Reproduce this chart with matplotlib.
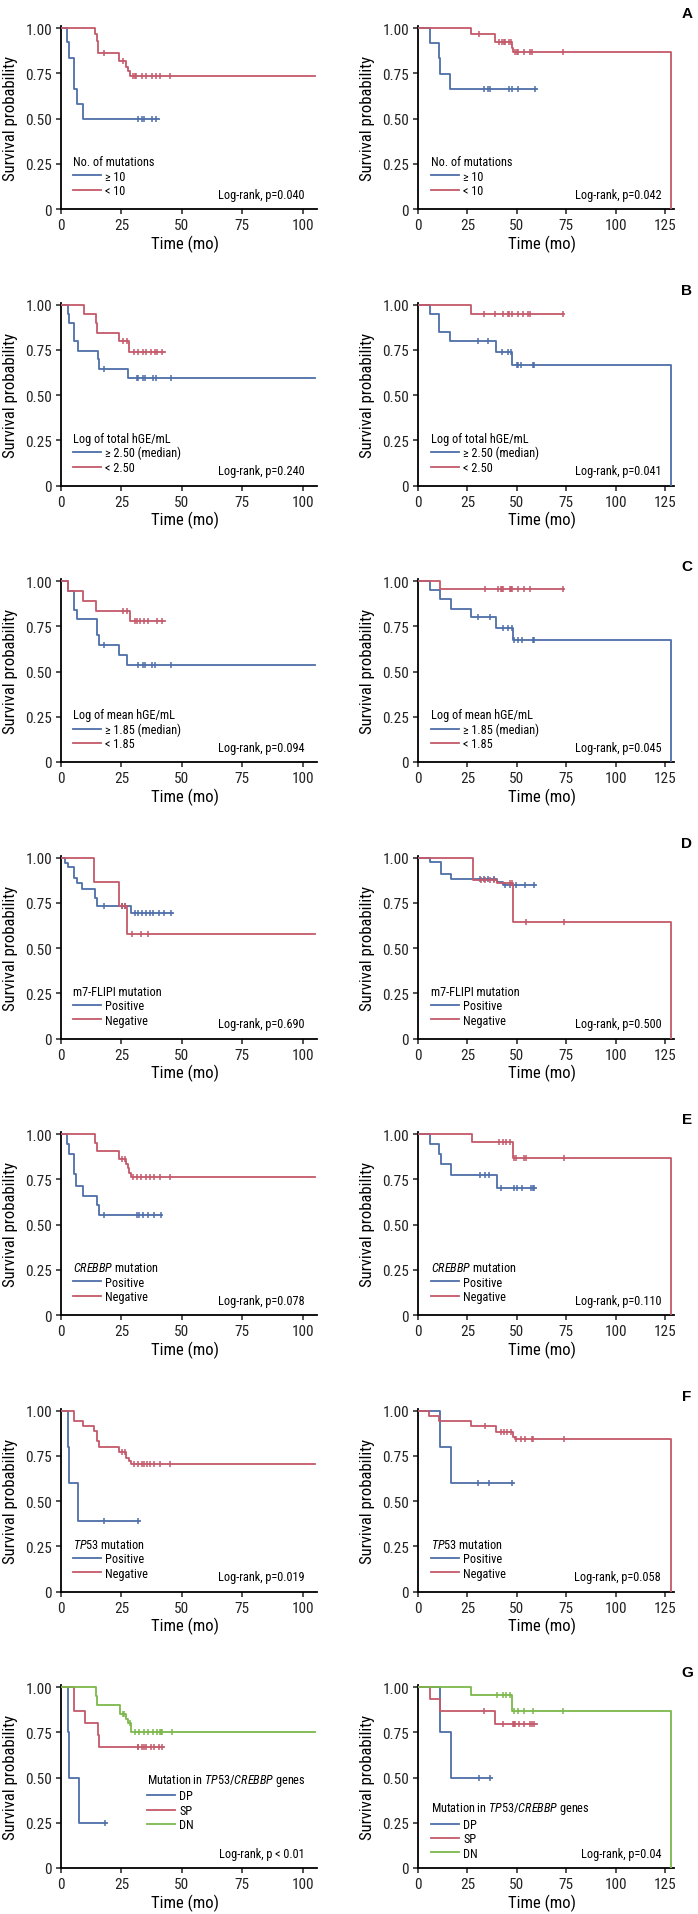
import numpy as np
import matplotlib
matplotlib.use("Agg")
import matplotlib.pyplot as plt
from matplotlib import font_manager as fm

# ---- data ----
# row A : No. of mutations
aL_blue_t = [0, 2.3, 3.3, 5.4, 6.7, 9.2, 40.6]
aL_blue_s = [1, 0.92, 0.835, 0.665, 0.58, 0.50, 0.50]
aL_blue_c = [31.7, 33.6, 34.3, 37.5, 39.3]
aL_red_t = [0, 14.0, 14.8, 15.5, 24.0, 27.0, 27.8, 28.6, 105]
aL_red_s = [1, 0.965, 0.93, 0.86, 0.82, 0.785, 0.76, 0.735, 0.735]
aL_red_c = [17.9, 25.8, 30.0, 30.5, 31.2, 33.7, 35.4, 37.7, 39.2, 40.9, 45.3]
aR_blue_t = [0, 5.9, 10.4, 10.9, 16.3, 60]
aR_blue_s = [1, 0.915, 0.835, 0.748, 0.665, 0.665]
aR_blue_c = [33.6, 35.6, 36.5, 46.2, 47.4, 50.4, 59.2]
aR_red_t = [0, 26.7, 39.0, 47.4, 48.0, 128]
aR_red_s = [1, 0.965, 0.925, 0.89, 0.865, 0]
aR_red_c = [30.9, 41.0, 42.7, 43.4, 44.0, 46.0, 47.2, 49.0, 50.0, 50.8, 53.6, 56.6, 57.8, 73.1]

# row B : log of total hGE/mL
bL_blue_t = [0, 2.8, 3.4, 5.4, 6.9, 15.2, 15.6, 27.6, 105]
bL_blue_s = [1, 0.95, 0.9, 0.8, 0.745, 0.70, 0.645, 0.595, 0.595]
bL_blue_c = [17.9, 31.3, 31.8, 33.8, 34.8, 38.2, 39.3, 45.4]
bL_red_t = [0, 9.7, 14.3, 15.0, 24.0, 28.3, 43.0]
bL_red_s = [1, 0.95, 0.9, 0.845, 0.8, 0.735, 0.735]
bL_red_c = [25.5, 27.5, 30.2, 32.0, 33.8, 35.4, 37.1, 38.9, 39.6, 41.7]
bR_blue_t = [0, 5.9, 10.8, 16.3, 39.5, 47.4, 128]
bR_blue_s = [1, 0.95, 0.85, 0.8, 0.74, 0.665, 0]
bR_blue_c = [30.6, 35.6, 42.4, 45.4, 47.1, 49.9, 50.8, 52.1, 58.0, 58.5]
bR_red_t = [0, 26.7, 74.0]
bR_red_s = [1, 0.95, 0.95]
bR_red_c = [33.4, 39.0, 43.2, 45.4, 46.0, 47.4, 50.4, 53.3, 55.8, 56.6, 73.4]

# row C : log of mean hGE/mL
cL_blue_t = [0, 3.0, 5.4, 6.6, 15.0, 15.6, 24.0, 27.2, 105]
cL_blue_s = [1, 0.945, 0.84, 0.79, 0.70, 0.645, 0.59, 0.537, 0.537]
cL_blue_c = [17.9, 31.7, 34.1, 34.8, 37.8, 38.9, 45.4]
cL_red_t = [0, 3.0, 9.0, 14.3, 28.6, 43.0]
cL_red_s = [1, 0.944, 0.889, 0.833, 0.778, 0.778]
cL_red_c = [25.8, 27.2, 30.6, 31.3, 32.7, 34.5, 36.1, 39.6, 41.7]
cR_blue_t = [0, 6.2, 10.9, 16.8, 26.9, 39.5, 47.9, 128]
cR_blue_s = [1, 0.95, 0.9, 0.845, 0.8, 0.74, 0.675, 0]
cR_blue_c = [30.6, 36.5, 43.2, 45.7, 47.4, 48.6, 50.8, 52.4, 58.3, 58.8]
cR_red_t = [0, 11.3, 74.0]
cR_red_s = [1, 0.955, 0.955]
cR_red_c = [33.9, 40.7, 41.9, 42.7, 43.2, 46.6, 47.2, 47.7, 50.4, 53.8, 56.6, 73.4]

# row D : m7-FLIPI
dL_blue_t = [0, 1.8, 3.1, 5.5, 6.8, 8.8, 14.2, 14.7, 28.9, 46.4]
dL_blue_s = [1, 0.972, 0.946, 0.885, 0.86, 0.824, 0.774, 0.733, 0.695, 0.695]
dL_blue_c = [17.9, 25.2, 26.3, 30.8, 31.9, 33.5, 35.0, 36.8, 38.3, 40.5, 42.7, 45.7]
dL_red_t = [0, 13.8, 23.9, 27.3, 105]
dL_red_s = [1, 0.867, 0.733, 0.58, 0.58]
dL_red_c = [25.2, 26.4, 29.5, 33.1, 35.9]
dR_blue_t = [0, 6.3, 11.7, 16.9, 40.2, 42.9, 59.8]
dR_blue_s = [1, 0.974, 0.907, 0.88, 0.862, 0.848, 0.848]
dR_blue_c = [31.6, 33.5, 35.5, 38.4, 44.0, 46.3, 49.6, 54.2, 58.7]
dR_red_t = [0, 27.6, 40.0, 48.2, 128]
dR_red_s = [1, 0.876, 0.857, 0.644, 0]
dR_red_c = [31.7, 33.9, 36.2, 38.5, 46.4, 47.5, 54.8, 74.0]

# row E : CREBBP
eL_blue_t = [0, 2.4, 3.3, 5.5, 6.4, 9.2, 14.7, 15.7, 42.0]
eL_blue_s = [1, 0.945, 0.89, 0.78, 0.715, 0.66, 0.606, 0.555, 0.555]
eL_blue_c = [17.9, 31.3, 32.2, 34.1, 35.9, 38.7, 41.4]
eL_red_t = [0, 14.2, 14.7, 23.9, 27.1, 27.6, 28.2, 28.9, 105]
eL_red_s = [1, 0.953, 0.906, 0.86, 0.834, 0.81, 0.785, 0.763, 0.763]
eL_red_c = [25.2, 26.3, 29.8, 31.3, 33.1, 35.0, 36.8, 38.7, 40.9, 45.1]
eR_blue_t = [0, 6.3, 10.6, 11.7, 16.9, 40.2, 59.8]
eR_blue_s = [1, 0.945, 0.887, 0.834, 0.771, 0.699, 0.699]
eR_blue_c = [31.2, 33.9, 36.1, 41.8, 48.5, 50.0, 52.4, 57.0, 58.2, 58.7]
eR_red_t = [0, 27.1, 48.1, 128]
eR_red_s = [1, 0.954, 0.867, 0]
eR_red_c = [41.0, 42.9, 44.7, 46.3, 48.6, 49.7, 53.7, 54.6, 73.8]

# row F : TP53
fL_blue_t = [0, 2.8, 3.3, 7.0, 32.8]
fL_blue_s = [1, 0.8, 0.6, 0.392, 0.392]
fL_blue_c = [17.9, 31.9]
fL_red_t = [0, 5.2, 9.2, 13.8, 14.7, 15.1, 15.7, 23.9, 27.1, 28.0, 28.9, 105]
fL_red_s = [1, 0.94, 0.912, 0.885, 0.857, 0.83, 0.8, 0.77, 0.74, 0.72, 0.705, 0.705]
fL_red_c = [25.2, 26.3, 30.4, 31.7, 33.5, 34.2, 35.5, 36.8, 38.7, 40.9, 45.1]
fR_blue_t = [0, 11.3, 16.9, 48.5]
fR_blue_s = [1, 0.8, 0.6, 0.6]
fR_blue_c = [30.5, 36.1, 47.4]
fR_red_t = [0, 5.6, 10.6, 26.6, 39.5, 48.1, 49.0, 128]
fR_red_s = [1, 0.97, 0.94, 0.912, 0.884, 0.856, 0.842, 0]
fR_red_c = [33.9, 41.8, 43.3, 45.1, 47.0, 49.7, 51.9, 54.2, 57.6, 58.2, 73.8]

# row G : TP53/CREBBP
gL_blue_t = [0, 3.0, 3.4, 7.4, 18.9]
gL_blue_s = [1, 0.75, 0.5, 0.25, 0.25]
gL_blue_c = [18.2]
gL_red_t = [0, 5.5, 9.9, 15.2, 15.6, 42.6]
gL_red_s = [1, 0.867, 0.8, 0.733, 0.667, 0.667]
gL_red_c = [31.7, 32.0, 33.4, 34.3, 35.4, 37.1, 38.5, 40.7, 42.0]
gL_green_t = [0, 14.3, 15.0, 24.4, 26.9, 27.9, 29.0, 105]
gL_green_s = [1, 0.95, 0.9, 0.85, 0.825, 0.8, 0.75, 0.75]
gL_green_c = [25.5, 26.0, 28.5, 30.6, 32.4, 34.3, 36.1, 37.9, 39.6, 41.0, 41.5, 42.0, 45.8]
gR_blue_t = [0, 10.9, 16.6, 37.6]
gR_blue_s = [1, 0.75, 0.5, 0.5]
gR_blue_c = [31.1, 36.5]
gR_red_t = [0, 6.2, 10.9, 39.0, 60.0]
gR_red_s = [1, 0.933, 0.867, 0.795, 0.795]
gR_red_c = [33.6, 43.2, 47.9, 48.5, 49.0, 51.0, 53.6, 56.6, 57.5, 58.8]
gR_green_t = [0, 26.9, 47.4, 128]
gR_green_s = [1, 0.955, 0.87, 0]
gR_green_c = [40.2, 43.2, 44.4, 46.6, 48.6, 50.8, 53.6, 58.3, 73.4]

letters = ["A", "B", "C", "D", "E", "F", "G"]
legend_titles = ["No. of mutations", "Log of total hGE/mL", "Log of mean hGE/mL",
                 "m7-FLIPI mutation", r"$\mathit{CREBBP}$ mutation",
                 r"$\mathit{TP53}$ mutation", r"Mutation in $\mathit{TP53/CREBBP}$ genes"]
group_labels = [["\u2265 10", "< 10"],
                ["\u2265 2.50 (median)", "< 2.50"],
                ["\u2265 1.85 (median)", "< 1.85"],
                ["Positive", "Negative"],
                ["Positive", "Negative"],
                ["Positive", "Negative"],
                ["DP", "SP", "DN"]]
p_left = ["Log-rank, p=0.040", "Log-rank, p=0.240", "Log-rank, p=0.094", "Log-rank, p=0.690",
          "Log-rank, p=0.078", "Log-rank, p=0.019", "Log-rank, p < 0.01"]
p_right = ["Log-rank, p=0.042", "Log-rank, p=0.041", "Log-rank, p=0.045", "Log-rank, p=0.500",
           "Log-rank, p=0.110", "Log-rank, p=0.058", "Log-rank, p=0.04"]

left_curves = [
    [(aL_blue_t, aL_blue_s, aL_blue_c), (aL_red_t, aL_red_s, aL_red_c)],
    [(bL_blue_t, bL_blue_s, bL_blue_c), (bL_red_t, bL_red_s, bL_red_c)],
    [(cL_blue_t, cL_blue_s, cL_blue_c), (cL_red_t, cL_red_s, cL_red_c)],
    [(dL_blue_t, dL_blue_s, dL_blue_c), (dL_red_t, dL_red_s, dL_red_c)],
    [(eL_blue_t, eL_blue_s, eL_blue_c), (eL_red_t, eL_red_s, eL_red_c)],
    [(fL_blue_t, fL_blue_s, fL_blue_c), (fL_red_t, fL_red_s, fL_red_c)],
    [(gL_blue_t, gL_blue_s, gL_blue_c), (gL_red_t, gL_red_s, gL_red_c),
     (gL_green_t, gL_green_s, gL_green_c)],
]
right_curves = [
    [(aR_blue_t, aR_blue_s, aR_blue_c), (aR_red_t, aR_red_s, aR_red_c)],
    [(bR_blue_t, bR_blue_s, bR_blue_c), (bR_red_t, bR_red_s, bR_red_c)],
    [(cR_blue_t, cR_blue_s, cR_blue_c), (cR_red_t, cR_red_s, cR_red_c)],
    [(dR_blue_t, dR_blue_s, dR_blue_c), (dR_red_t, dR_red_s, dR_red_c)],
    [(eR_blue_t, eR_blue_s, eR_blue_c), (eR_red_t, eR_red_s, eR_red_c)],
    [(fR_blue_t, fR_blue_s, fR_blue_c), (fR_red_t, fR_red_s, fR_red_c)],
    [(gR_blue_t, gR_blue_s, gR_blue_c), (gR_red_t, gR_red_s, gR_red_c),
     (gR_green_t, gR_green_s, gR_green_c)],
]

COLORS = ["#4d6ea8", "#c4596a", "#7cb84a"]

# ---- fonts: a narrow face if one is around, otherwise shrink the regular one ----
avail = {f.name for f in fm.fontManager.ttflist}
NARROW = None
for cand in ["Liberation Sans Narrow", "Roboto Condensed", "Open Sans Condensed",
             "Noto Sans Condensed", "DejaVu Sans Condensed"]:
    if cand in avail:
        NARROW = cand
        break
if NARROW:
    AX_FONT, TICK_SIZE, LAB_SIZE, SMALL = NARROW, 11, 12, 8.8
else:
    AX_FONT, TICK_SIZE, LAB_SIZE, SMALL = "Liberation Sans", 9.8, 10.2, 7.8
FAM = [AX_FONT, "DejaVu Sans"]
plt.rcParams["font.family"] = FAM
plt.rcParams["mathtext.fontset"] = "custom"
plt.rcParams["mathtext.rm"] = AX_FONT
plt.rcParams["mathtext.it"] = AX_FONT + ":italic"

W, H = 698, 1915
fig = plt.figure(figsize=(W / 100, H / 100), dpi=100)


def draw_km(ax, t, s, c, color, label):
    t = np.asarray(t, float)
    s = np.asarray(s, float)
    line, = ax.step(t, s, where="post", color=color, lw=1.3, label=label, zorder=3)
    cy = [s[np.searchsorted(t, ci, side="right") - 1] for ci in c]
    ax.plot(c, cy, ls="none", marker="|", ms=5, mew=1.1, color=color, zorder=3)
    return line


def panel(ax, curves, labels, title, ptext, xmax, xticks, leg_xy):
    handles = []
    for (t, s, c), col, lab in zip(curves, COLORS, labels):
        handles.append(draw_km(ax, t, s, c, col, lab))
    ax.set_xlim(0, xmax)
    ax.set_ylim(0, 1.01)
    ax.set_xticks(xticks)
    ax.set_yticks([0, 0.25, 0.5, 0.75, 1.0])
    ax.set_yticklabels(["0", "0.25", "0.50", "0.75", "1.00"])
    for sp in ["top", "right"]:
        ax.spines[sp].set_visible(False)
    for sp in ["left", "bottom"]:
        ax.spines[sp].set_linewidth(1.3)
    ax.tick_params(direction="out", length=3.5, width=1.1, labelsize=TICK_SIZE, pad=3,
                   colors="#222222")
    ax.set_xlabel("Time (mo)", fontsize=LAB_SIZE)
    ax.set_ylabel("Survival probability", fontsize=LAB_SIZE)
    ax.xaxis.set_label_coords(0.485, -0.14)
    ax.yaxis.set_label_coords(-0.168, 0.5)
    leg = ax.legend(handles=handles, title=title, loc="upper left", bbox_to_anchor=leg_xy,
                    frameon=False, alignment="left", borderpad=0, borderaxespad=0,
                    handlelength=2.3, handletextpad=0.35, labelspacing=0.12,
                    prop={"family": FAM, "size": SMALL})
    leg.get_title().set_fontsize(SMALL)
    ax.text(0.95, 0.045, ptext, transform=ax.transAxes, ha="right", va="bottom",
            fontsize=SMALL)


for i in range(7):
    y0 = 210 + 276.5 * i
    bottom = 1 - y0 / H
    axL = fig.add_axes([61 / W, bottom, 256 / W, 182.8 / H])
    axR = fig.add_axes([418 / W, bottom, 256 / W, 182.8 / H])
    legL = (0.047, 0.295) if i < 6 else (0.336, 0.525)
    legR = (0.05, 0.295) if i < 6 else (0.05, 0.37)
    panel(axL, left_curves[i], group_labels[i], legend_titles[i], p_left[i],
          106, [0, 25, 50, 75, 100], legL)
    panel(axR, right_curves[i], group_labels[i], legend_titles[i], p_right[i],
          129.5, [0, 25, 50, 75, 100, 125], legR)
    fig.text(687 / W, 1 - (29.3 + 276.5 * i - 15) / H, letters[i], ha="center", va="center",
             fontsize=11, fontweight="bold", family=["Liberation Sans", "DejaVu Sans"])

fig.savefig("out.png", dpi=100)
